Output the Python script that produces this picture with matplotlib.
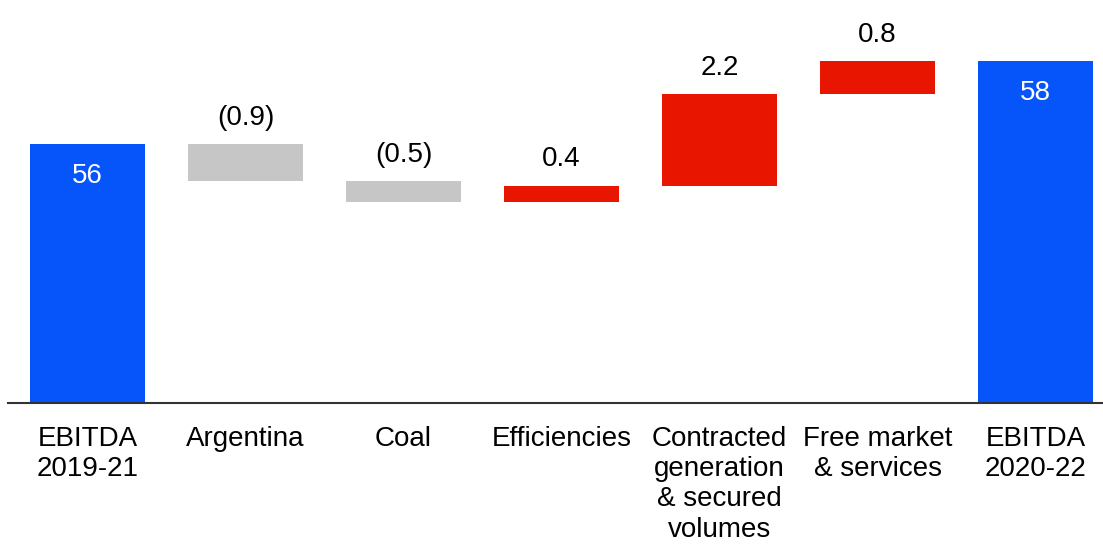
import numpy as np
import matplotlib
matplotlib.use("Agg")
import matplotlib.pyplot as plt

plt.rcParams['font.family'] = ['Liberation Sans', 'DejaVu Sans']

# data
categories = ["EBITDA\n2019-21", "Argentina", "Coal", "Efficiencies",
              "Contracted\ngeneration\n& secured\nvolumes", "Free market\n& services",
              "EBITDA\n2020-22"]
start_total = 56.0
deltas = [-0.9, -0.5, 0.4, 2.2, 0.8]
end_total = 58.0
labels = ["56", "(0.9)", "(0.5)", "0.4", "2.2", "0.8", "58"]

BLUE = "#0555FA"
RED = "#E81500"
GREY = "#C6C6C6"

fig = plt.figure(figsize=(11.03, 5.45), dpi=100)
ax = fig.add_axes([8 / 1103, 142 / 545, 1095 / 1103, 403 / 545])

x = np.arange(len(categories))
width = 0.728

# totals
ax.bar(x[0], start_total, width=width, color=BLUE)
ax.bar(x[-1], end_total, width=width, color=BLUE)

# floating steps
running = start_total
tops = [start_total]
for i, d in enumerate(deltas):
    bottom = running if d >= 0 else running + d
    ax.bar(x[i + 1], abs(d), bottom=bottom, width=width,
           color=RED if d >= 0 else GREY)
    tops.append(bottom + abs(d))
    running += d
tops.append(end_total)

# value labels
for i, (xi, top, lab) in enumerate(zip(x, tops, labels)):
    if i == 0 or i == len(x) - 1:
        ax.annotate(lab, (xi, top), xytext=(0, -23), textcoords="offset points",
                    ha="center", va="center", color="white", fontsize=20)
    else:
        ax.annotate(lab, (xi, top), xytext=(0, 19), textcoords="offset points",
                    ha="center", va="center", color="black", fontsize=20)

ax.set_xlim(-0.503, 6.427)
ax.set_ylim(49.76, 59.47)

ax.set_xticks(x)
ax.set_xticklabels(categories, fontsize=20, linespacing=1.21)
ax.tick_params(axis="x", length=0, pad=16.5)
ax.set_yticks([])

for s in ["top", "left", "right"]:
    ax.spines[s].set_visible(False)
ax.spines["bottom"].set_color("#333333")
ax.spines["bottom"].set_linewidth(1.5)
ax.spines["bottom"].set_zorder(5)

fig.savefig("out.png", dpi=100)
